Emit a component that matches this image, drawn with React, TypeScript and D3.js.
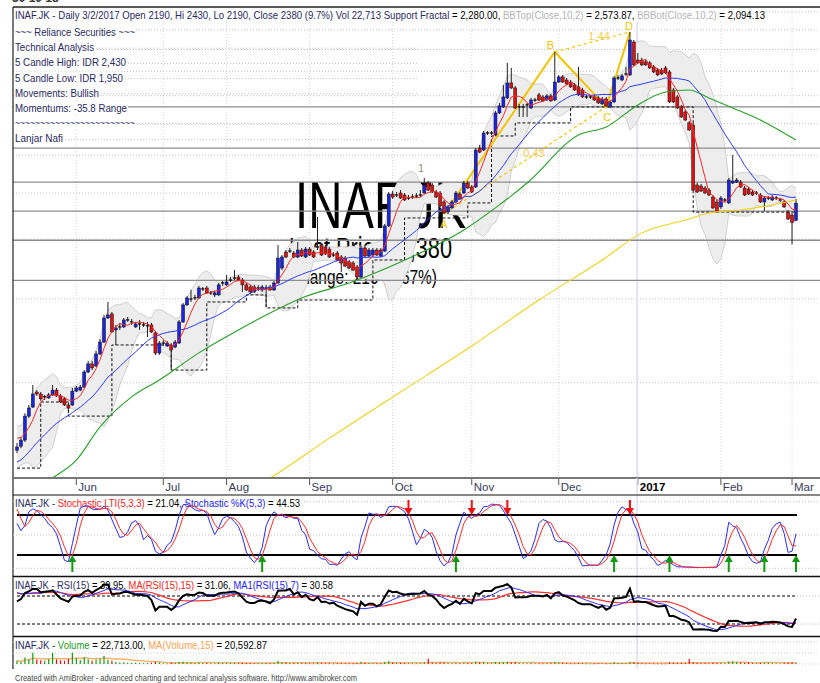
import React from "react";
import * as d3 from "d3";

// ---------------- DATA ----------------
const opens = [722,736,758,851,889,956,947,929,929,943,965,938,925,898,898,960,965,979,1053,1095,1084,1149,1217,1367,1394,1290,1309,1309,1354,1341,1309,1328,1322,1309,1322,1272,1154,1211,1194,1200,1188,1211,1341,1456,1498,1506,1506,1573,1580,1543,1528,1528,1611,1604,1642,1658,1666,1642,1604,1588,1588,1580,1565,1580,1588,1565,1619,1740,1880,1889,1871,1835,1898,1835,1907,1880,1926,1945,1926,1907,1853,1871,1835,1826,1792,1783,1749,1666,1917,1844,1853,1898,1844,1889,2132,2488,2476,2500,2476,2440,2452,2464,2476,2500,2624,2599,2512,2500,2394,2281,2326,2394,2488,2500,2624,2574,2574,3107,3077,3341,3341,3309,3680,3789,3957,4254,4153,3789,3789,3808,3770,3918,4015,3976,3918,3996,3918,4274,4379,4315,4274,4213,4173,4112,3976,3976,3976,3957,3845,3937,3789,3881,4358,4315,4443,4422,5185,4753,4753,4708,4686,4596,4529,4529,4574,4486,4112,3976,3789,3698,3507,3473,2599,2586,2561,2536,2452,2394,2337,2417,2383,2624,2636,2636,2561,2548,2512,2500,2476,2394,2440,2417,2440,2417,2394,2281,2248,2190];
const highs = [747,769,863,898,989,965,956,943,952,989,975,947,934,907,975,984,989,1063,1111,1111,1165,1235,1387,1477,1407,1322,1335,1367,1374,1361,1341,1354,1341,1341,1335,1284,1223,1229,1223,1211,1229,1354,1470,1521,1565,1528,1596,1588,1596,1558,1558,1619,1634,1683,1666,1723,1683,1658,1619,1604,1604,1604,1604,1604,1604,1634,1945,1853,1898,1917,1889,1973,1917,1926,1926,1898,2227,1964,1945,1926,1880,1889,1853,1844,1809,1800,1766,1936,1936,1917,1917,1917,1917,2153,2512,2524,2512,2536,2500,2476,2488,2500,2536,2688,2649,2624,2536,2524,2417,2360,2417,2524,2512,2649,2649,2599,3107,3153,3373,3373,3373,3715,3863,4213,4686,4574,4193,3845,3845,3863,3957,3957,4054,4015,4034,4034,4941,4420,4422,4358,4315,4254,4596,4153,4015,4015,4015,3996,3976,3976,3918,4400,4422,4443,4596,5442,5235,4917,4800,4753,4731,4641,4574,4574,4619,4529,4153,4015,3826,3733,3540,3507,2624,2611,2586,2561,2476,2417,2464,2440,2688,3004,2688,2662,2586,2574,2536,2524,2500,2464,2464,2476,2464,2430,2417,2303,2270,2430];
const lows = [712,729,751,843,885,938,916,920,925,938,934,907,894,863,894,956,960,975,1048,1063,1079,1143,1211,1361,1272,1200,1290,1303,1341,1322,1303,1290,1309,1247,1272,1143,1143,1194,1188,1063,1182,1206,1335,1449,1477,1491,1498,1558,1536,1528,1513,1521,1596,1596,1627,1642,1634,1550,1558,1536,1543,1558,1550,1442,1558,1558,1611,1723,1826,1871,1826,1826,1835,1826,1844,1826,1898,1844,1853,1826,1835,1800,1707,1749,1732,1715,1642,1658,1835,1835,1835,1844,1835,1880,2122,2429,2452,2429,2406,2417,2429,2440,2452,2488,2524,2500,2440,2337,2259,2259,2314,2383,2417,2488,2548,2500,2561,3031,3061,3309,3309,3293,3662,3770,3937,4133,3752,3610,3610,3610,3752,3881,3900,3881,3900,3881,3900,4254,4254,4213,4153,4093,3996,3957,3937,3937,3900,3845,3826,3789,3770,3863,4315,4294,4400,4400,4619,4664,4619,4619,4551,4465,4400,4422,4443,3863,3863,3752,3592,3540,3373,2524,2500,2512,2488,2464,2314,2270,2314,2394,2371,2611,2624,2561,2464,2476,2464,2476,2383,2292,2417,2406,2417,2394,2326,2194,1950,2190];
const closes = [733,758,851,885,947,947,925,934,943,965,938,911,898,885,960,975,979,1053,1095,1074,1149,1217,1367,1387,1278,1303,1309,1354,1354,1341,1328,1328,1322,1316,1278,1154,1211,1211,1211,1171,1217,1341,1456,1506,1498,1506,1580,1573,1543,1543,1543,1604,1619,1627,1642,1658,1642,1604,1565,1550,1550,1580,1588,1580,1565,1619,1826,1835,1835,1889,1835,1898,1844,1907,1853,1835,1926,1853,1862,1835,1853,1809,1783,1757,1740,1723,1666,1917,1844,1898,1898,1853,1898,2132,2488,2452,2476,2440,2417,2440,2452,2464,2476,2599,2536,2512,2452,2349,2270,2337,2394,2500,2429,2624,2561,2512,3077,3046,3341,3341,3341,3680,3808,3976,4254,4153,3770,3789,3789,3826,3918,3918,3918,3900,3996,3900,4274,4379,4274,4234,4173,4112,4015,3976,3976,3976,3918,3863,3937,3808,3881,4358,4358,4400,4443,5235,4641,4686,4641,4641,4574,4486,4422,4443,4465,3881,3881,3770,3610,3557,3389,2536,2512,2524,2500,2476,2326,2281,2440,2417,2662,2649,2662,2574,2476,2488,2476,2500,2394,2440,2440,2452,2440,2417,2337,2205,2170,2380];
const volumes = [60000,45000,120000,90000,210000,80000,70000,60000,90000,205000,85000,70000,60000,95000,210000,110000,75000,130000,90000,60000,85000,100000,150000,80000,60000,40000,30000,35000,25000,20000,
22000,18000,15000,20000,25000,40000,28000,15000,12000,30000,20000,35000,45000,30000,25000,18000,30000,20000,22000,15000,
14000,28000,20000,25000,18000,22000,15000,20000,18000,16000,15000,14000,16000,22000,15000,25000,60000,35000,25000,20000,
18000,22000,15000,18000,14000,12000,30000,20000,15000,14000,12000,15000,18000,14000,12000,13000,20000,40000,25000,18000,
15000,14000,16000,40000,55000,30000,20000,22000,18000,15000,14000,12000,15000,30000,100000,25000,20000,30000,28000,20000,
18000,22000,15000,25000,20000,18000,45000,30000,35000,20000,15000,40000,30000,35000,40000,30000,35000,20000,15000,14000,
20000,15000,14000,12000,16000,15000,35000,25000,20000,15000,14000,12000,18000,15000,10000,9000,12000,14000,15000,12000,
13000,35000,20000,18000,15000,40000,35000,22000,15000,12000,14000,12000,10000,9000,10000,30000,25000,20000,22000,18000,
95000,30000,20000,15000,18000,14000,25000,20000,22000,15000,45000,50000,40000,25000,20000,35000,18000,15000,20000,25000,
30000,18000,15000,14000,20000,25000,30000,22713];
// closes before the first visible bar (only feed the indicators)
const priorCloses = [625,610,595,615,630,620,640,655,645,665,680,675,695,735,730,750,770,775,797];

// long moving averages (bar index, price)
const ma50Idx = [4,9,15,21,29,36,46,56,63,72,84,97,113,122,129,142,149,157,164,170,175,181,188,197];
const ma50Val = [590,631,688,808,934,1013,1155,1290,1387,1506,1619,1792,2091,2360,2624,3309,3439,3826,4073,4112,3957,3770,3557,3229];
const ma200Idx = [55,64,79,97,115,132,148,158,169,175,183,191,197];
const ma200Val = [573,631,765,956,1194,1491,1809,2062,2194,2270,2303,2360,2417];

const levelPrices = [3790,3105,2635,2290,1990,1640];
const gridPrices = [6000,5500,5000,4500,4000,3500,3000,2500,2000,1500,1000];
const monthLabels = ["Jun","Jul","Aug","Sep","Oct","Nov","Dec","2017","Feb","Mar"];
const monthIdx = [15,37,53,74,95,115,137,157,178,196];

const fractalIdx = [0,6,13,24,39,48,58,63,71,90,98,114,120,126,140,171,197];
const fractalVal = [662,911,851,1200,1063,1477,1528,1435,1491,1809,2216,2383,3293,3507,3789,2280,2280];

const patternLabels = ["A","B","C","D"];
const patternIdx = [108,136,149,155];
const patternVal = [2259,4941,3789,5442];
const ratioLabels = ["0.43","1.44"];

const buyIdx = [14,62,111,151,165,180,189,197];
const sellIdx = [99,115,124,155];

const infoLines = ["~~~ Reliance Securities ~~~","Technical Analysis","5 Candle High: IDR 2,430","5 Candle Low: IDR 1,950","Movements: Bullish","Momentums: -35.8 Range","~~~~~~~~~~~~~~~~~~~~~~~~","Lanjar Nafi"];
const infoWidths = [120,79,111,108,84,112,120,48];

// ---------------- HELPERS ----------------
function smaAt(arr: number[], n: number, j: number) {
  let s = 0, c = 0;
  for (let k = Math.max(0, j - n + 1); k <= j; k++) {
    if (isFinite(arr[k])) { s += arr[k]; c++; }
  }
  return c ? s / c : NaN;
}

const FONT = "Liberation Sans, Arial, Helvetica, sans-serif";
const NAVY = "#2a2a62";

export default function App() {
  const N = closes.length;
  const x = d3.scaleLinear().domain([0, N - 1]).range([17, 796]);
  const yP = d3.scaleLog().domain([1000, 5000]).range([382.7, 49.5]);
  const yS = d3.scaleLinear().domain([0, 100]).range([568.3, 501.7]);
  const yR = d3.scaleLinear().domain([30, 70]).range([624, 596]);
  const yV = d3.scaleLinear().domain([0, 500000]).range([664, 637]);

  const P0 = priorCloses.length;
  const allC = priorCloses.concat(closes);
  const allH = priorCloses.concat(highs);
  const allL = priorCloses.concat(lows);
  const n = allC.length;

  const ma5 = closes.map((_, i) => smaAt(allC, 5, i + P0));
  const ma20 = closes.map((_, i) => smaAt(allC, 20, i + P0));
  const bb = closes.map((_, i) => {
    const j = i + P0;
    const w = allC.slice(j - 9, j + 1);
    const m = d3.mean(w) as number;
    const sd = Math.sqrt(d3.mean(w, (v) => (v - m) * (v - m)) as number);
    return [m + 2 * sd, m - 2 * sd];
  });

  // stochastic
  const num: number[] = [], den: number[] = [];
  for (let j = 0; j < n; j++) {
    const a = Math.max(0, j - 4);
    const lo = d3.min(allL.slice(a, j + 1)) as number;
    const hi = d3.max(allH.slice(a, j + 1)) as number;
    num.push(allC[j] - lo);
    den.push(hi - lo);
  }
  const K: number[] = [];
  for (let j = 0; j < n; j++) {
    let s1 = 0, s2 = 0;
    for (let k = Math.max(0, j - 2); k <= j; k++) { s1 += num[k]; s2 += den[k]; }
    K.push(s2 > 0 ? (100 * s1) / s2 : 50);
  }
  const D = K.map((_, j) => smaAt(K, 3, j));

  // RSI (Wilder)
  const rsi = new Array(n).fill(NaN);
  let ag = 0, al = 0;
  for (let k = 1; k <= 15; k++) {
    const d = allC[k] - allC[k - 1];
    ag += Math.max(d, 0); al += Math.max(-d, 0);
  }
  ag /= 15; al /= 15;
  rsi[15] = al === 0 ? 100 : 100 - 100 / (1 + ag / al);
  for (let k = 16; k < n; k++) {
    const d = allC[k] - allC[k - 1];
    ag = (ag * 14 + Math.max(d, 0)) / 15;
    al = (al * 14 + Math.max(-d, 0)) / 15;
    rsi[k] = al === 0 ? 100 : 100 - 100 / (1 + ag / al);
  }
  const rsiMa15 = rsi.map((_, j) => smaAt(rsi, 15, j));
  const rsiMa7 = rsi.map((_, j) => smaAt(rsi, 7, j));
  const volMa = volumes.map((_, i) => smaAt(volumes, 15, i));

  const idx = d3.range(N);
  const lineP = (vals: number[]) =>
    d3.line<number>().x((i) => x(i)).y((i) => yP(vals[i])).curve(d3.curveLinear)(idx) || "";
  const bandArea = d3.area<number>().x((i) => x(i)).y0((i) => yP(bb[i][1])).y1((i) => yP(bb[i][0]))(idx) || "";
  const bbTop = d3.line<number>().x((i) => x(i)).y((i) => yP(bb[i][0]))(idx) || "";
  const bbBot = d3.line<number>().x((i) => x(i)).y((i) => yP(bb[i][1]))(idx) || "";
  const curvePts = (ix: number[], vals: number[]) =>
    d3.line<number>().x((k) => x(ix[k])).y((k) => yP(vals[k])).curve(d3.curveMonotoneX)(d3.range(ix.length)) || "";
  const fractalPath = d3.line<number>().x((k) => x(fractalIdx[k])).y((k) => yP(fractalVal[k])).curve(d3.curveStepAfter)(d3.range(fractalIdx.length)) || "";
  const lineS = (arr: number[], yy: (v: number) => number) =>
    d3.line<number>().x((i) => x(i)).y((i) => yy(arr[i + P0])).defined((i) => isFinite(arr[i + P0]))(idx) || "";
  const volMaPath = d3.line<number>().x((i) => x(i)).y((i) => yV(volMa[i]))(idx) || "";

  const pA = [x(patternIdx[0]), yP(patternVal[0])];
  const pB = [x(patternIdx[1]), yP(patternVal[1])];
  const pC = [x(patternIdx[2]), yP(patternVal[2])];
  const pD = [x(patternIdx[3]), yP(patternVal[3])];
  const patternSolid = d3.line()([pA, pB, pC, pD] as [number, number][]) || "";
  const labelOff = [[-4, 14], [-8, -3], [-3, 14], [-5, -2]];

  const gold = "#f4c400";

  return (
    <svg width={820} height={683} style={{ position: "absolute", left: 0, top: 0, background: "#fff" }} fontFamily={FONT}>
      <defs>
        <clipPath id="cpMain"><rect x={13} y={7} width={807} height={471} /></clipPath>
        <clipPath id="cpStoch"><rect x={13} y={495} width={807} height={81} /></clipPath>
        <clipPath id="cpRsi"><rect x={13} y={577} width={807} height={59} /></clipPath>
        <clipPath id="cpVol"><rect x={13} y={637} width={807} height={32} /></clipPath>
      </defs>
      <rect x={0} y={0} width={820} height={683} fill="#fff" />
      <text x={12} y={2} fontSize={12} fontWeight="bold" fill="#333">30  10  18</text>

      {/* ---------- MAIN PANEL ---------- */}
      <g clipPath="url(#cpMain)">
        {gridPrices.map((p, k) => (
          <line key={"g" + k} x1={13} x2={820} y1={yP(p)} y2={yP(p)} stroke="#c4c4c4" strokeDasharray="1,2" />
        ))}
        {monthIdx.map((m, k) => (
          <line key={"vg" + k} x1={x(m)} x2={x(m)} y1={7} y2={478} stroke="#d4d4d4" strokeDasharray="1,2" />
        ))}
        {infoLines.map((t, k) =>
          k === 0 || k === 5 ? null : (
            <line key={"ld" + k} x1={15 + infoWidths[k] + 2} x2={418} y1={33 + k * 15.2} y2={33 + k * 15.2} stroke="#c4c4c4" strokeDasharray="1,2" />
          )
        )}
        <line x1={637} x2={637} y1={7} y2={478} stroke="#dedef2" strokeWidth={1.5} />

        {/* watermark */}
        <text x={295} y={228} fontSize={66} fill="#000" textLength={171} lengthAdjust="spacingAndGlyphs">INAF.JK</text>
        <text x={289} y={258} fontSize={29} fill="#000" textLength={163} lengthAdjust="spacingAndGlyphs">Last Price: 2,380</text>
        <text x={290} y={284} fontSize={21} fill="#000" textLength={147} lengthAdjust="spacingAndGlyphs">Change: 210 (9.67%)</text>

        {/* Bollinger cloud */}
        <path d={bandArea} fill="#ededed" />
        <path d={bbTop} fill="none" stroke="#c6c6c6" strokeWidth={0.8} />
        <path d={bbBot} fill="none" stroke="#c6c6c6" strokeWidth={0.8} />

        {levelPrices.map((p, k) => (
          <line key={"lv" + k} x1={13} x2={820} y1={yP(p)} y2={yP(p)} stroke="#8c8c8c" strokeWidth={1.3} />
        ))}

        <path d={fractalPath} fill="none" stroke="#111" strokeWidth={1} strokeDasharray="3,2" />

        {/* harmonic pattern */}
        <path d={patternSolid} fill="none" stroke={gold} strokeWidth={2} />
        <line x1={pA[0]} y1={pA[1]} x2={pC[0]} y2={pC[1]} stroke={gold} strokeWidth={1.2} strokeDasharray="3,3" />
        <line x1={pB[0]} y1={pB[1]} x2={pD[0]} y2={pD[1]} stroke={gold} strokeWidth={1.2} strokeDasharray="3,3" />
        {[pA, pB, pC, pD].map((p, k) => (
          <text key={"pl" + k} x={p[0] + labelOff[k][0]} y={p[1] + labelOff[k][1]} fontSize={11} fill={gold}>{patternLabels[k]}</text>
        ))}
        <text x={(pA[0] + pC[0]) / 2 - 2} y={(pA[1] + pC[1]) / 2 - 3} fontSize={11} fill="#f3cf55">{ratioLabels[0]}</text>
        <text x={(pB[0] + pD[0]) / 2 - 4} y={(pB[1] + pD[1]) / 2 - 2} fontSize={11} fill="#f3cf55">{ratioLabels[1]}</text>
        <text x={x(102) - 2} y={yP(2766)} fontSize={10} fill="#888">1</text>

        {/* candles */}
        {idx.map((i) => {
          const cx = x(i);
          const yo = yP(opens[i]), yc = yP(closes[i]);
          const top = Math.min(yo, yc), h = Math.abs(yo - yc);
          const up = closes[i] >= opens[i];
          return (
            <g key={"c" + i}>
              <line x1={cx} x2={cx} y1={yP(highs[i])} y2={yP(lows[i])} stroke="#222" strokeWidth={1} />
              {h < 1.2 ? (
                <line x1={cx - 1.6} x2={cx + 1.6} y1={yc} y2={yc} stroke="#000" strokeWidth={1.2} />
              ) : (
                <rect x={cx - 1.5} y={top} width={3} height={h} fill={up ? "#1a22e6" : "#e01010"} stroke="#111" strokeWidth={0.5} />
              )}
            </g>
          );
        })}

        {/* moving averages */}
        <path d={curvePts(ma200Idx, ma200Val)} fill="none" stroke="#f2d21a" strokeWidth={1.1} />
        <path d={curvePts(ma50Idx, ma50Val)} fill="none" stroke="#28a028" strokeWidth={1.1} />
        <path d={lineP(ma20)} fill="none" stroke="#2a3cff" strokeWidth={1} />
        <path d={lineP(ma5)} fill="none" stroke="#ff2828" strokeWidth={1} />
      </g>

      {/* header + info block */}
      <rect x={14} y={9} width={752} height={13} fill="#fff" />
      <text x={15} y={19} fontSize={11.5} textLength={750} lengthAdjust="spacingAndGlyphs">
        <tspan fill={NAVY}>INAF.JK - Daily 3/2/2017 Open 2190, Hi 2430, Lo 2190, Close 2380 (9.7%) Vol 22,713 Support Fractal</tspan>
        <tspan fill="#000">{" = 2,280.00, "}</tspan>
        <tspan fill="#b4b4b4">BBTop(Close,10,2)</tspan>
        <tspan fill="#000">{" = 2,573.87, "}</tspan>
        <tspan fill="#b4b4b4">BBBot(Close,10,2)</tspan>
        <tspan fill="#000">{" = 2,094.13"}</tspan>
      </text>
      {infoLines.map((t, k) => (
        <g key={"il" + k}>
          <rect x={14} y={26 + k * 15.2} width={infoWidths[k] + 2} height={13} fill="#fff" />
          <text x={15} y={36 + k * 15.2} fontSize={11.5} fill={NAVY} textLength={infoWidths[k]} lengthAdjust="spacingAndGlyphs">{t}</text>
        </g>
      ))}

      {/* frame main */}
      <line x1={13} x2={820} y1={7} y2={7} stroke="#222" strokeWidth={1.5} />
      <line x1={13} x2={13} y1={7} y2={669} stroke="#222" strokeWidth={1.2} />
      <line x1={13} x2={820} y1={478} y2={478} stroke="#777" strokeWidth={2} />

      {/* date axis */}
      {monthIdx.map((m, k) => (
        <g key={"mt" + k}>
          <line x1={x(m)} x2={x(m)} y1={479} y2={485} stroke="#555" />
          <text x={x(m) + 2} y={491} fontSize={11.5} fill={k === 7 ? "#000" : "#3a3a5a"} fontWeight={k === 7 ? "bold" : "normal"}>{monthLabels[k]}</text>
        </g>
      ))}
      <line x1={637} x2={637} y1={478} y2={669} stroke="#dedef2" strokeWidth={1.5} />

      {/* ---------- STOCHASTIC ---------- */}
      <line x1={13} x2={820} y1={495} y2={495} stroke="#111" strokeWidth={1.2} />
      {[100, 50, 0].map((v) => (
        <line key={"sd" + v} x1={13} x2={820} y1={yS(v)} y2={yS(v)} stroke="#c0c0c0" strokeDasharray="1,2" />
      ))}
      <rect x={14} y={497} width={288} height={12} fill="#fff" />
      <text x={15} y={507} fontSize={11.5} textLength={285} lengthAdjust="spacingAndGlyphs">
        <tspan fill={NAVY}>INAF.JK - </tspan>
        <tspan fill="#ff2020">Stochastic LTI(5,3,3)</tspan>
        <tspan fill="#000">{" = 21.04, "}</tspan>
        <tspan fill="#2020ff">Stochastic %K(5,3)</tspan>
        <tspan fill="#000">{" = 44.53"}</tspan>
      </text>
      <line x1={17} x2={797} y1={yS(80)} y2={yS(80)} stroke="#000" strokeWidth={2} />
      <line x1={17} x2={797} y1={yS(20)} y2={yS(20)} stroke="#000" strokeWidth={2} />
      <g clipPath="url(#cpStoch)">
        <path d={lineS(K, yS)} fill="none" stroke="#2a2aff" strokeWidth={1} />
        <path d={lineS(D, yS)} fill="none" stroke="#ff2a2a" strokeWidth={1} />
        {sellIdx.map((i) => {
          const cx = x(i);
          return <path key={"sa" + i} d={`M${cx - 1},500 h2 v8 h3 l-4,7 l-4,-7 h3 z`} fill="#ee1111" />;
        })}
        {buyIdx.map((i) => {
          const cx = x(i);
          return <path key={"ba" + i} d={`M${cx},555 l4,7 h-3 v10 h-2 v-10 h-3 z`} fill="#119911" />;
        })}
      </g>

      {/* ---------- RSI ---------- */}
      <line x1={13} x2={820} y1={576.5} y2={576.5} stroke="#111" strokeWidth={1.5} />
      <rect x={14} y={579} width={321} height={12} fill="#fff" />
      <text x={15} y={589} fontSize={11.5} textLength={318} lengthAdjust="spacingAndGlyphs">
        <tspan fill={NAVY}>INAF.JK - RSI(15)</tspan>
        <tspan fill="#000">{" = 39.95, "}</tspan>
        <tspan fill="#ff2020">MA(RSI(15),15)</tspan>
        <tspan fill="#000">{" = 31.06, "}</tspan>
        <tspan fill="#2020ff">MA1(RSI(15),7)</tspan>
        <tspan fill="#000">{" = 30.58"}</tspan>
      </text>
      <line x1={17} x2={797} y1={yR(70)} y2={yR(70)} stroke="#000" strokeDasharray="3,2" />
      <line x1={17} x2={797} y1={yR(30)} y2={yR(30)} stroke="#000" strokeDasharray="3,2" />
      <line x1={797} x2={820} y1={yR(70)} y2={yR(70)} stroke="#c0c0c0" strokeDasharray="1,2" />
      <line x1={797} x2={820} y1={yR(30)} y2={yR(30)} stroke="#c0c0c0" strokeDasharray="1,2" />
      <g clipPath="url(#cpRsi)">
        <path d={lineS(rsiMa15, yR)} fill="none" stroke="#ff3030" strokeWidth={1.2} />
        <path d={lineS(rsiMa7, yR)} fill="none" stroke="#3030ff" strokeWidth={1} />
        <path d={lineS(rsi, yR)} fill="none" stroke="#000" strokeWidth={2} />
      </g>

      {/* ---------- VOLUME ---------- */}
      <line x1={13} x2={820} y1={636.5} y2={636.5} stroke="#111" strokeWidth={1.5} />
      {[642, 653, 664].map((yy) => (
        <line key={"vd" + yy} x1={13} x2={820} y1={yy} y2={yy} stroke="#c8c8c8" strokeDasharray="1,2" />
      ))}
      <rect x={14} y={639} width={255} height={12} fill="#fff" />
      <text x={15} y={649} fontSize={11.5} textLength={252} lengthAdjust="spacingAndGlyphs">
        <tspan fill={NAVY}>INAF.JK - </tspan>
        <tspan fill="#1c9a1c">Volume</tspan>
        <tspan fill="#000">{" = 22,713.00, "}</tspan>
        <tspan fill="#ffa050">MA(Volume,15)</tspan>
        <tspan fill="#000">{" = 20,592.87"}</tspan>
      </text>
      <g clipPath="url(#cpVol)">
        <path d={volMaPath} fill="none" stroke="#ffb070" strokeWidth={1.5} />
        {idx.map((i) => (
          <rect key={"v" + i} x={x(i) - 0.6} y={yV(volumes[i])} width={1.2} height={Math.max(0.8, 664 - yV(volumes[i]))}
            fill={closes[i] >= opens[i] ? "#12a012" : "#e01010"} />
        ))}
      </g>

      <text x={15} y={681} fontSize={9} fill="#444" textLength={342} lengthAdjust="spacingAndGlyphs">
        Created with AmiBroker - advanced charting and technical analysis software. http://www.amibroker.com
      </text>
    </svg>
  );
}
